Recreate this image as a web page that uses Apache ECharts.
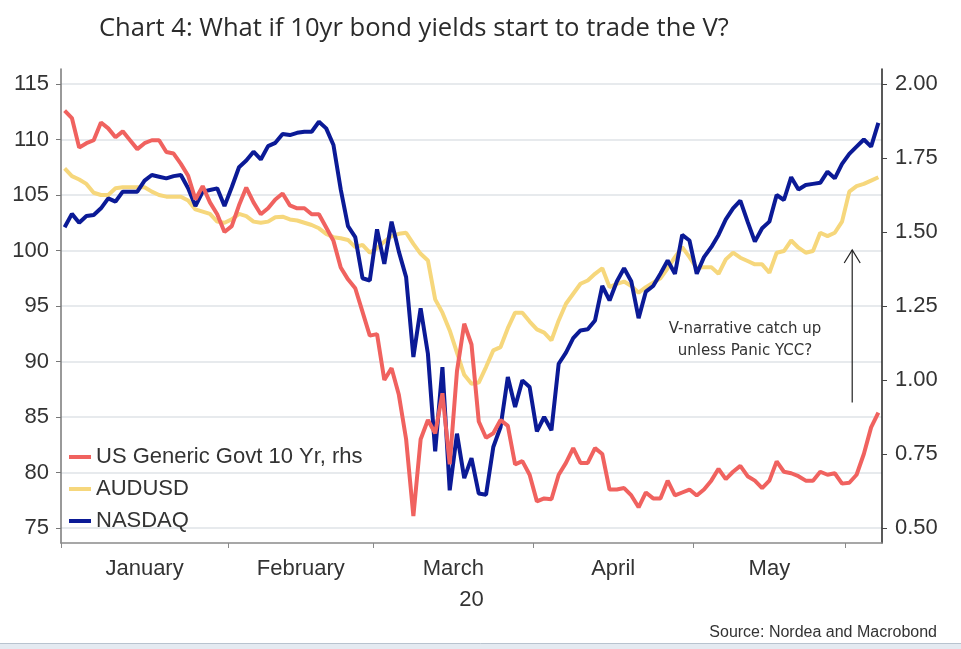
<!DOCTYPE html>
<html><head><meta charset="utf-8">
<script src="https://cdn.jsdelivr.net/npm/echarts@6/dist/echarts.min.js"></script>
<style>html,body{margin:0;padding:0;background:#fff}#c{width:961px;height:649px}</style>
</head><body><div id="c"></div>
<script>
// x domain: business days 2020-01-01 .. 2020-06-05 (113 days), index 0..112
const monthNames = ['January','February','March','April','May'];
const monthStartIdx = [0, 23, 43, 65, 87, 108];
const yearLabel = '20';
const leftTicks = [75, 80, 85, 90, 95, 100, 105, 110, 115];
const rightTicks = [0.5, 0.75, 1.0, 1.25, 1.5, 1.75, 2.0];
const seriesNames = ['US Generic Govt 10 Yr, rhs', 'AUDUSD', 'NASDAQ'];

const us10y = [1.91,1.885,1.785,1.80,1.81,1.87,1.85,1.82,1.84,1.81,1.78,1.80,1.81,1.81,1.77,1.765,1.73,1.69,1.61,1.655,
  1.60,1.56,1.50,1.52,1.59,1.65,1.60,1.56,1.58,1.61,1.63,1.59,1.58,1.58,1.56,1.56,1.515,1.47,1.38,1.34,
  1.31,1.23,1.15,1.155,1.00,1.04,0.95,0.80,0.54,0.80,0.865,0.82,0.955,0.715,1.03,1.19,1.12,0.86,0.805,0.82,
  0.865,0.845,0.715,0.726,0.68,0.59,0.60,0.597,0.68,0.72,0.77,0.72,0.72,0.77,0.75,0.63,0.63,0.635,0.61,0.57,
  0.62,0.60,0.60,0.66,0.61,0.62,0.63,0.61,0.63,0.66,0.70,0.665,0.69,0.71,0.675,0.66,0.635,0.66,0.725,0.69,
  0.685,0.675,0.66,0.66,0.69,0.68,0.685,0.65,0.653,0.68,0.75,0.84,0.89];

const audusd = [107.4,106.7,106.4,106.0,105.2,105.0,105.0,105.6,105.7,105.7,105.7,105.7,105.3,105.0,104.85,104.85,104.85,104.5,103.7,103.5,
  103.3,102.6,102.5,102.8,103.3,103.1,102.6,102.5,102.6,103.0,103.05,102.8,102.7,102.5,102.3,102.0,101.5,101.2,101.1,100.95,
  100.3,100.5,99.8,100.2,100.8,101.3,101.5,101.6,100.6,99.7,99.1,95.6,94.4,92.8,90.8,88.8,88.0,88.1,89.5,91.0,
  91.3,93.0,94.4,94.4,93.6,92.9,92.6,91.9,93.7,95.2,96.1,97.0,97.3,97.9,98.4,96.7,97.0,97.2,96.8,96.2,
  96.7,97.1,97.5,98.4,99.4,100.3,99.4,98.4,98.5,98.5,97.9,99.2,99.8,99.35,99.05,98.75,98.75,98.0,99.8,99.95,
  100.9,100.25,99.8,99.95,101.6,101.3,101.6,102.6,105.3,105.8,106.0,106.3,106.6];

const nasdaq = [102.1,103.3,102.5,103.1,103.2,103.8,104.7,104.4,105.3,105.3,105.3,106.3,106.8,106.65,106.5,106.7,106.8,105.6,104.0,105.3,
  105.45,105.6,104.0,105.7,107.5,108.1,108.9,108.2,109.4,109.7,110.5,110.4,110.6,110.7,110.7,111.6,111.0,109.5,105.5,102.2,
  101.2,97.5,97.3,101.9,98.8,102.6,99.9,97.6,90.4,94.8,90.7,81.9,89.5,78.4,83.5,79.5,81.3,78.1,78.0,82.3,
  84.1,88.6,85.9,88.3,87.7,83.7,85.0,83.8,89.8,90.8,92.1,92.8,92.9,93.7,96.8,95.5,97.2,98.4,97.2,93.9,
  96.3,96.8,97.9,99.1,97.9,101.4,100.9,97.9,99.4,100.3,101.4,102.8,103.8,104.5,102.6,100.8,102.0,102.6,105.0,104.55,
  106.6,105.5,105.9,106.0,106.1,107.1,106.5,107.8,108.7,109.35,110.0,109.35,111.5];

const nDays = 113;
const labelPos = monthNames.map((m, k) => (monthStartIdx[k] + monthStartIdx[k + 1]) / 2);
const pairs = arr => arr.map((v, i) => [i + 0.5, v]);

const L0 = 73.65, L1 = 116.35;
const toRight = v => 0.5 + (v - 75) * 0.0375;
const FONT = "'Liberation Sans', Arial, sans-serif";
const TXT = '#333333';

const chart = echarts.init(document.getElementById('c'), null, {renderer: 'canvas'});
chart.setOption({
  animation: false,
  backgroundColor: '#ffffff',
  title: {
    text: 'Chart 4: What if 10yr bond yields start to trade the V?',
    left: 99, top: 16, padding: 0,
    textStyle: {fontFamily: "'Open Sans', 'Noto Sans', sans-serif", fontSize: 25.6, fontWeight: 500, color: '#2b2b2b'}
  },
  grid: {left: 61, right: 79, top: 69, bottom: 106, containLabel: false},
  legend: {
    data: seriesNames,
    orient: 'vertical', left: 69, top: 446, padding: 0,
    itemWidth: 22, itemHeight: 4, itemGap: 10, icon: 'rect',
    textStyle: {fontFamily: FONT, fontSize: 22, color: TXT, lineHeight: 22}
  },
  xAxis: {
    type: 'value', min: 0, max: nDays,
    name: yearLabel, nameLocation: 'middle', nameGap: 46,
    nameTextStyle: {fontFamily: FONT, fontSize: 22, color: TXT},
    axisLine: {show: true, lineStyle: {color: '#8a8a8a', width: 1.5}},
    axisTick: {show: true, customValues: monthStartIdx, length: 5, lineStyle: {color: '#8a8a8a'}},
    axisLabel: {
      customValues: labelPos, margin: 15,
      fontFamily: FONT, fontSize: 22, color: TXT,
      formatter: v => { const k = labelPos.indexOf(v); return k >= 0 ? monthNames[k] : ''; }
    },
    splitLine: {show: false}
  },
  yAxis: [
    {
      type: 'value', position: 'left', min: L0, max: L1,
      axisLine: {show: true, lineStyle: {color: '#777', width: 1.5}},
      axisTick: {show: true, customValues: leftTicks, length: 5, lineStyle: {color: '#777'}},
      axisLabel: {customValues: leftTicks, margin: 12, fontFamily: FONT, fontSize: 22, color: TXT},
      splitLine: {show: true, lineStyle: {color: '#dfe3e7', width: 1.5}}
    },
    {
      type: 'value', position: 'right', min: toRight(L0), max: toRight(L1),
      axisLine: {show: true, lineStyle: {color: '#222', width: 1.5}},
      axisTick: {show: true, customValues: rightTicks, length: 5, lineStyle: {color: '#444'}},
      axisLabel: {customValues: rightTicks, margin: 13, fontFamily: FONT, fontSize: 22, color: TXT,
        formatter: v => v.toFixed(2)},
      splitLine: {show: false}
    }
  ],
  series: [
    {name: seriesNames[1], type: 'line', yAxisIndex: 0, data: pairs(audusd), showSymbol: false,
      lineStyle: {width: 4, color: '#f6d77c'}, itemStyle: {color: '#f6d77c'}, z: 2},
    {name: seriesNames[2], type: 'line', yAxisIndex: 0, data: pairs(nasdaq), showSymbol: false,
      lineStyle: {width: 4, color: '#0b1a96'}, itemStyle: {color: '#0b1a96'}, z: 3},
    {name: seriesNames[0], type: 'line', yAxisIndex: 1, data: pairs(us10y), showSymbol: false,
      lineStyle: {width: 4, color: '#f0625f'}, itemStyle: {color: '#f0625f'}, z: 4}
  ]
});

// annotation arrow, positioned through the chart's own scales
const arrowX = 108.9, arrowFrom = 86.3, arrowTo = 100.05;
const pA = chart.convertToPixel({xAxisIndex: 0, yAxisIndex: 0}, [arrowX, arrowFrom]);
const pB = chart.convertToPixel({xAxisIndex: 0, yAxisIndex: 0}, [arrowX, arrowTo]);
chart.setOption({
  graphic: [
    {type: 'line', shape: {x1: pA[0], y1: pA[1], x2: pB[0], y2: pB[1]}, style: {stroke: '#222', lineWidth: 1.2}, z: 10},
    {type: 'polyline', shape: {points: [[pB[0] - 8, pB[1] + 13], [pB[0], pB[1]], [pB[0] + 8, pB[1] + 13]]},
      style: {stroke: '#222', lineWidth: 1.2, fill: null}, z: 10},
    {type: 'text', x: 745, y: 329, z: 10,
      style: {text: 'V-narrative catch up', font: "15px 'DejaVu Sans', sans-serif", fill: TXT, align: 'center', verticalAlign: 'middle'}},
    {type: 'text', x: 745, y: 351, z: 10,
      style: {text: 'unless Panic YCC?', font: "15px 'DejaVu Sans', sans-serif", fill: TXT, align: 'center', verticalAlign: 'middle'}},
    {type: 'text', x: 937, y: 633, z: 10,
      style: {text: 'Source: Nordea and Macrobond', font: "16px 'Liberation Sans', Arial, sans-serif", fill: TXT, align: 'right', verticalAlign: 'middle'}},
    {type: 'rect', shape: {x: 0, y: 643, width: 961, height: 6}, style: {fill: '#e4eaf1'}, z: 1},
    {type: 'line', shape: {x1: 0, y1: 643.5, x2: 961, y2: 643.5}, style: {stroke: '#b8c3cf', lineWidth: 1}, z: 1}
  ]
});
</script>
</body></html>
